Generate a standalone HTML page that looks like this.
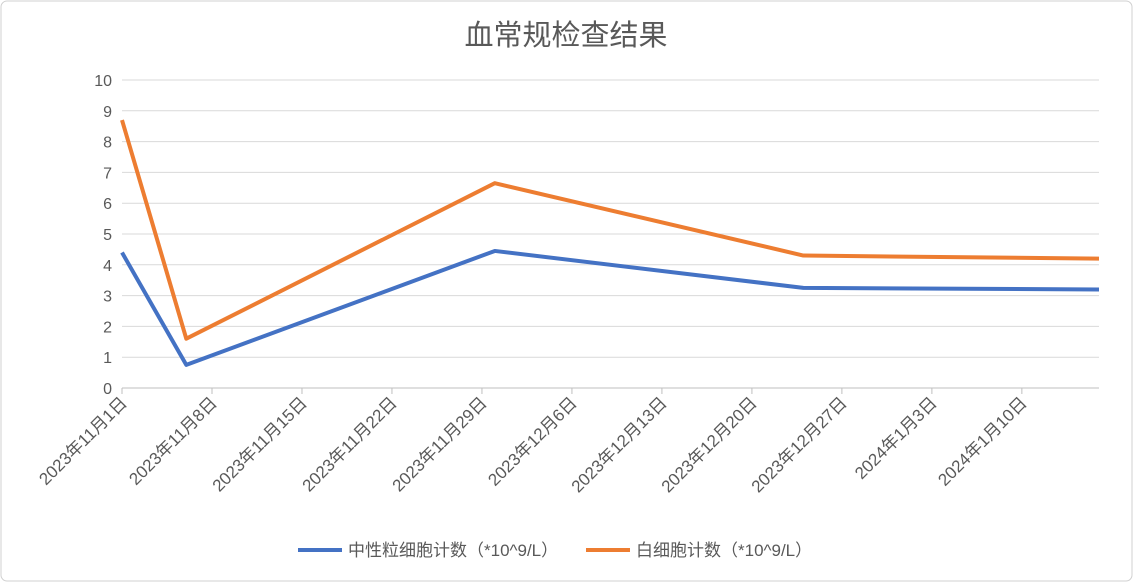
<!DOCTYPE html>
<html><head><meta charset="utf-8"><style>
html,body{margin:0;padding:0;background:#fff}
svg{display:block;font-family:"Liberation Sans","Noto Sans CJK SC",sans-serif}
</style></head><body>
<svg id="chart" width="1133" height="582" viewBox="0 0 1133 582">
<rect x="1" y="1" width="1131" height="580" rx="6" fill="#fff" stroke="#d0d0d0"/>
<text x="566" y="45" text-anchor="middle" font-size="29" fill="#595959">血常规检查结果</text>
<g id="grid"></g><g id="xaxis"></g><g id="series"></g>
<g>
<g>
<line x1="298" y1="550" x2="342" y2="550" stroke="#4472c4" stroke-width="4"/>
<text x="348" y="556" font-size="17" fill="#595959">中性粒细胞计数（*10^9/L）</text></g>
<g>
<line x1="586" y1="550" x2="630" y2="550" stroke="#ed7d31" stroke-width="4"/>
<text x="636" y="556" font-size="17" fill="#595959">白细胞计数（*10^9/L）</text></g>
</g>
</svg>
<script>
const dayOffsets=[0,5,29,53,76];
const neutrophil=[4.4,0.75,4.45,3.25,3.2];
const wbc=[8.7,1.6,6.65,4.3,4.2];
const yTicks=[0,1,2,3,4,5,6,7,8,9,10];
const xTickLabels=["2023年11月1日","2023年11月8日","2023年11月15日","2023年11月22日","2023年11月29日","2023年12月6日","2023年12月13日","2023年12月20日","2023年12月27日","2024年1月3日","2024年1月10日"];
const NS="http://www.w3.org/2000/svg";
const L=122,R=1099,T=80,B=388,DMAX=76;
const xs=d=>L+(R-L)*d/DMAX;
const ys=v=>B-(B-T)*v/10;
function mk(tag,attrs,parent){const e=document.createElementNS(NS,tag);for(const k in attrs)e.setAttribute(k,attrs[k]);parent.appendChild(e);return e;}
const grid=document.getElementById('grid');
yTicks.forEach(v=>{
  const ln=mk('line',{x1:L,x2:R,y1:ys(v),y2:ys(v),stroke:v===0?'#bfbfbf':'#d9d9d9','stroke-width':1},grid);
  
  
  const t=mk('text',{x:L-10,y:ys(v)+6,'text-anchor':'end','font-size':16,fill:'#595959'},grid);
  t.textContent=v;
  
  
});
const xa=document.getElementById('xaxis');
xTickLabels.forEach((lab,i)=>{
  const x=xs(i*7);
  const tk=mk('line',{x1:x,x2:x,y1:B,y2:B+6,stroke:'#bfbfbf'},xa);
  
  
  const t=mk('text',{x:x+6,y:B+16,'text-anchor':'end','font-size':17,fill:'#595959',transform:`rotate(-45 ${x+6} ${B+16})`},xa);
  t.textContent=lab;
  
  
});
const sg=document.getElementById('series');
function line(vals,color,name){
  const pts=vals.map((v,i)=>xs(dayOffsets[i])+','+ys(v)).join(' ');
  const p=mk('polyline',{points:pts,fill:'none',stroke:color,'stroke-width':4,'stroke-linejoin':'round'},sg);
  
  
}
line(neutrophil,'#4472c4','neutrophil-line');
line(wbc,'#ed7d31','wbc-line');
</script>
</body></html>
